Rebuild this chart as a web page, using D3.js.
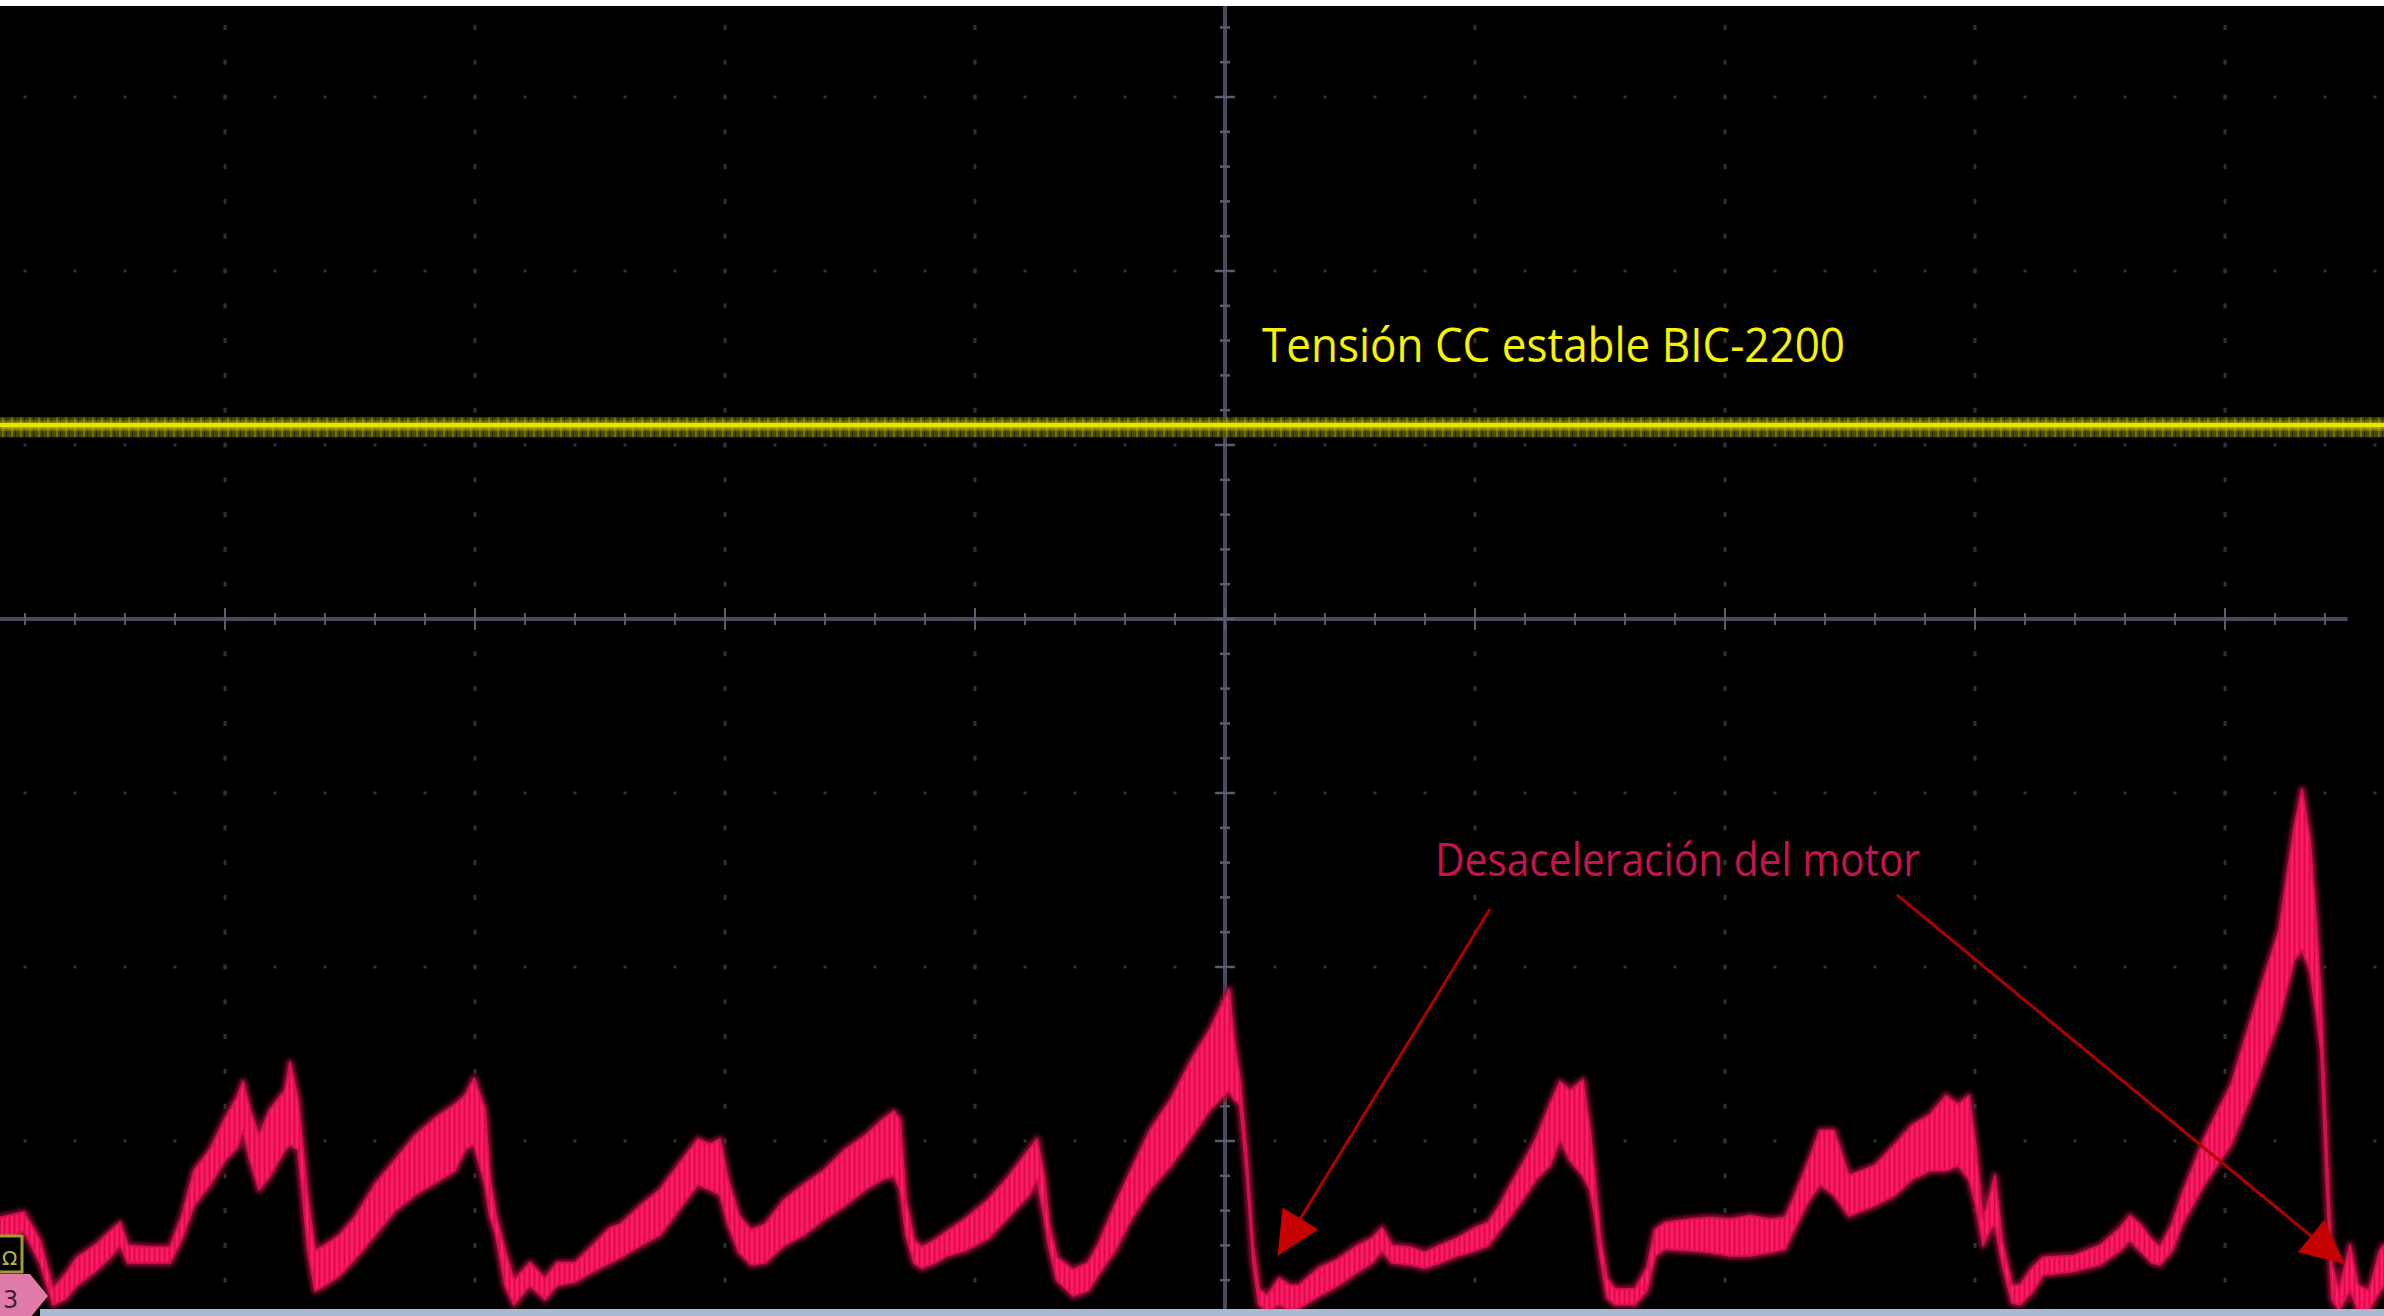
<!DOCTYPE html>
<html>
<head>
<meta charset="utf-8">
<script src="https://cdn.jsdelivr.net/npm/d3@7"></script>
<style>
  html, body { margin: 0; padding: 0; background: #000; overflow: hidden; }
  svg { display: block; }
</style>
</head>
<body>
<svg id="chart" width="2384" height="1316"></svg>
<script>
// ---------------- DATA (units = graticule divisions) ----------------
// Channel 3 (motor current) – time in divisions from screen centre, envelope of the noisy band
const ch3Time = [-4.900,-4.804,-4.740,-4.688,-4.640,-4.592,-4.520,-4.460,-4.420,-4.388,-4.300,-4.220,-4.172,-4.124,-4.060,-4.000,-3.952,-3.928,-3.900,-3.864,-3.820,-3.760,-3.740,-3.708,-3.688,-3.668,-3.640,-3.600,-3.540,-3.476,-3.400,-3.320,-3.240,-3.160,-3.080,-3.040,-3.004,-2.960,-2.940,-2.916,-2.880,-2.844,-2.780,-2.720,-2.672,-2.600,-2.528,-2.460,-2.420,-2.336,-2.260,-2.172,-2.108,-2.060,-2.020,-1.988,-1.944,-1.896,-1.840,-1.764,-1.684,-1.604,-1.520,-1.440,-1.372,-1.324,-1.300,-1.276,-1.244,-1.212,-1.160,-1.112,-1.040,-0.948,-0.868,-0.784,-0.752,-0.724,-0.704,-0.672,-0.608,-0.548,-0.508,-0.440,-0.376,-0.300,-0.216,-0.132,-0.060,-0.020,0.016,0.036,0.060,0.088,0.112,0.136,0.168,0.216,0.260,0.296,0.376,0.452,0.532,0.588,0.628,0.668,0.740,0.800,0.860,0.928,1.000,1.052,1.100,1.132,1.188,1.244,1.300,1.340,1.380,1.432,1.460,1.480,1.500,1.528,1.560,1.640,1.688,1.720,1.760,1.860,1.940,2.020,2.100,2.180,2.240,2.272,2.336,2.380,2.436,2.496,2.548,2.600,2.680,2.748,2.820,2.884,2.932,2.976,3.004,3.032,3.060,3.080,3.108,3.148,3.180,3.228,3.272,3.392,3.500,3.580,3.620,3.660,3.708,3.740,3.788,3.828,3.916,4.024,4.128,4.216,4.276,4.308,4.340,4.364,4.384,4.396,4.412,4.428,4.456,4.500,4.532,4.576,4.620,4.636];
const ch3Upper = [-3.44,-3.41,-3.57,-3.85,-3.77,-3.67,-3.60,-3.52,-3.47,-3.60,-3.61,-3.61,-3.43,-3.17,-3.05,-2.87,-2.75,-2.66,-2.82,-2.97,-2.82,-2.71,-2.55,-2.76,-3.05,-3.34,-3.63,-3.60,-3.54,-3.43,-3.25,-3.11,-2.97,-2.87,-2.79,-2.74,-2.64,-2.82,-3.22,-3.43,-3.63,-3.80,-3.70,-3.79,-3.70,-3.70,-3.60,-3.50,-3.48,-3.37,-3.28,-3.11,-2.99,-3.02,-2.99,-3.22,-3.43,-3.51,-3.48,-3.34,-3.25,-3.17,-3.05,-2.97,-2.88,-2.83,-2.88,-3.34,-3.57,-3.61,-3.57,-3.52,-3.45,-3.34,-3.21,-3.05,-2.99,-3.20,-3.48,-3.67,-3.74,-3.70,-3.60,-3.37,-3.17,-2.94,-2.76,-2.53,-2.36,-2.24,-2.13,-2.42,-2.65,-3.11,-3.60,-3.85,-3.89,-3.79,-3.83,-3.83,-3.73,-3.68,-3.60,-3.56,-3.50,-3.60,-3.61,-3.64,-3.60,-3.56,-3.50,-3.47,-3.37,-3.28,-3.14,-2.99,-2.79,-2.66,-2.71,-2.65,-2.94,-3.22,-3.54,-3.79,-3.85,-3.85,-3.73,-3.51,-3.47,-3.45,-3.44,-3.45,-3.43,-3.45,-3.44,-3.34,-3.11,-2.94,-2.94,-3.20,-3.17,-3.14,-3.02,-2.91,-2.85,-2.74,-2.79,-2.74,-3.05,-3.45,-3.31,-3.20,-3.57,-3.83,-3.83,-3.73,-3.67,-3.66,-3.60,-3.50,-3.43,-3.48,-3.57,-3.61,-3.48,-3.31,-2.99,-2.68,-2.19,-1.79,-1.21,-0.98,-1.27,-1.73,-2.19,-2.65,-3.22,-3.71,-3.86,-3.60,-3.83,-3.86,-3.63,-3.60];
const ch3Lower = [-3.57,-3.52,-3.70,-3.94,-3.91,-3.83,-3.75,-3.67,-3.60,-3.70,-3.70,-3.70,-3.56,-3.37,-3.25,-3.11,-3.04,-2.94,-3.11,-3.28,-3.20,-3.05,-3.02,-3.05,-3.34,-3.63,-3.86,-3.83,-3.77,-3.67,-3.54,-3.40,-3.31,-3.24,-3.17,-3.05,-3.02,-3.25,-3.43,-3.54,-3.83,-3.94,-3.83,-3.91,-3.83,-3.81,-3.75,-3.70,-3.67,-3.60,-3.54,-3.37,-3.25,-3.28,-3.31,-3.48,-3.64,-3.71,-3.70,-3.60,-3.54,-3.45,-3.37,-3.28,-3.22,-3.20,-3.28,-3.54,-3.70,-3.73,-3.70,-3.66,-3.63,-3.56,-3.44,-3.31,-3.22,-3.43,-3.61,-3.80,-3.89,-3.86,-3.77,-3.63,-3.45,-3.28,-3.14,-2.97,-2.82,-2.76,-2.71,-2.76,-2.79,-3.21,-3.70,-3.94,-3.98,-3.94,-3.97,-3.96,-3.89,-3.83,-3.75,-3.70,-3.63,-3.70,-3.71,-3.73,-3.70,-3.66,-3.63,-3.60,-3.51,-3.45,-3.34,-3.22,-3.14,-2.99,-3.11,-3.20,-3.28,-3.43,-3.66,-3.90,-3.94,-3.94,-3.86,-3.66,-3.62,-3.63,-3.64,-3.66,-3.66,-3.64,-3.62,-3.52,-3.34,-3.25,-3.31,-3.43,-3.40,-3.37,-3.31,-3.22,-3.17,-3.17,-3.14,-3.22,-3.37,-3.60,-3.51,-3.48,-3.70,-3.93,-3.94,-3.87,-3.77,-3.75,-3.71,-3.63,-3.57,-3.63,-3.70,-3.71,-3.63,-3.48,-3.25,-3.02,-2.65,-2.30,-1.96,-1.90,-2.02,-2.25,-2.48,-2.88,-3.43,-3.91,-3.97,-3.86,-3.97,-3.97,-3.86,-3.83];

// Channel 1 (BIC-2200 DC voltage) – flat noisy trace
const ch1Time  = [-4.90, -3.00, -1.00, 1.00, 3.00, 4.64];
const ch1Upper = [1.160, 1.160, 1.160, 1.160, 1.160, 1.160];   // outer noise band
const ch1Lower = [1.045, 1.045, 1.045, 1.045, 1.045, 1.045];
const ch1CoreUpper = [1.130, 1.130, 1.130, 1.130, 1.130, 1.130]; // bright core
const ch1CoreLower = [1.090, 1.090, 1.090, 1.090, 1.090, 1.090];

// Graticule: 10 horizontal x 8 vertical divisions, 5 minor ticks per division
const hDivs = [-5,-4,-3,-2,-1,0,1,2,3,4,5];
const vDivs = [-4,-3,-2,-1,0,1,2,3,4];
const minorPerDiv = 5;

// Annotations
const labelCh1 = "Tensión CC estable BIC-2200";
const labelCh3 = "Desaceleración del motor";
// arrows: [start time, start value, tip time, tip value]
const arrows = [
  [1.060, -1.667, 0.210, -3.661],
  [2.688, -1.586, 4.480, -3.707]
];

// ---------------- SCALES ----------------
const W = 2384, H = 1316;
const x = d3.scaleLinear().domain([-5, 5]).range([-25, 2475]);
const y = d3.scaleLinear().domain([-4, 4]).range([1315, -77]);

const svg = d3.select("#chart");
svg.append("rect").attr("width", W).attr("height", H).attr("fill", "#000");

const defs = svg.append("defs");
const pY = defs.append("pattern").attr("id", "yelTex").attr("patternUnits", "userSpaceOnUse")
  .attr("width", 9).attr("height", 40);
pY.append("rect").attr("width", 9).attr("height", 40).attr("fill", "#5a5a00");
pY.append("rect").attr("x", 2).attr("width", 2).attr("height", 40).attr("fill", "#8c8c06");
pY.append("rect").attr("x", 6).attr("width", 1).attr("height", 40).attr("fill", "#2c2c00");

const pR = defs.append("pattern").attr("id", "redTex").attr("patternUnits", "userSpaceOnUse")
  .attr("width", 5).attr("height", 60);
pR.append("rect").attr("width", 5).attr("height", 60).attr("fill", "#ee1258");
pR.append("rect").attr("x", 1).attr("width", 2).attr("height", 60).attr("fill", "#ff1c62");
pR.append("rect").attr("x", 4).attr("width", 1).attr("height", 60).attr("fill", "#d20e4c");

const blur = defs.append("filter").attr("id", "halo").attr("x", "-5%").attr("y", "-20%")
  .attr("width", "110%").attr("height", "140%");
blur.append("feGaussianBlur").attr("stdDeviation", 2.2);

// ---------------- GRATICULE ----------------
const grid = svg.append("g");
const minorT = d3.range(hDivs[0] * minorPerDiv, hDivs[hDivs.length-1] * minorPerDiv + 1).map(k => k / minorPerDiv);
const minorV = d3.range(vDivs[0] * minorPerDiv, vDivs[vDivs.length-1] * minorPerDiv + 1).map(k => k / minorPerDiv);

hDivs.filter(d => d !== 0).forEach(t => {
  grid.selectAll(null).data(minorV).enter().append("rect")
    .attr("x", x(t) - 1.5).attr("y", v => y(v) - 2.5)
    .attr("width", 3).attr("height", 5).attr("fill", "#2f323b");
});
vDivs.filter(d => d !== 0).forEach(v => {
  grid.selectAll(null).data(minorT).enter().append("rect")
    .attr("x", t => x(t) - 1.5).attr("y", y(v) - 1.5)
    .attr("width", 3).attr("height", 3).attr("fill", "#2f323b");
});

const axisCol = "#474b5b";
grid.append("line").attr("x1", x(-4.9)).attr("x2", x(4.49)).attr("y1", y(0)).attr("y2", y(0))
  .attr("stroke", axisCol).attr("stroke-width", 4);
grid.append("line").attr("x1", x(0)).attr("x2", x(0)).attr("y1", 6).attr("y2", y(-4))
  .attr("stroke", axisCol).attr("stroke-width", 4);
grid.selectAll(null).data(minorT.filter(t => t > -4.95 && t < 4.49)).enter().append("line")
  .attr("x1", t => x(t)).attr("x2", t => x(t))
  .attr("y1", t => y(0) - (Number.isInteger(t) ? 11 : 6))
  .attr("y2", t => y(0) + (Number.isInteger(t) ? 11 : 6))
  .attr("stroke", "#585c6e").attr("stroke-width", 2);
grid.selectAll(null).data(minorV).enter().append("line")
  .attr("x1", v => x(0) - (Number.isInteger(v) ? 10 : 5))
  .attr("x2", v => x(0) + (Number.isInteger(v) ? 10 : 5))
  .attr("y1", v => y(v)).attr("y2", v => y(v))
  .attr("stroke", "#585c6e").attr("stroke-width", 2.5);

// ---------------- CHANNEL 1 (yellow) ----------------
const idx1 = d3.range(ch1Time.length);
const area1 = d3.area().x(i => x(ch1Time[i])).y0(i => y(ch1Lower[i])).y1(i => y(ch1Upper[i]));
const core1 = d3.area().x(i => x(ch1Time[i])).y0(i => y(ch1CoreLower[i])).y1(i => y(ch1CoreUpper[i]));
svg.append("path").datum(idx1).attr("d", area1).attr("fill", "url(#yelTex)").attr("opacity", 0.8);
svg.append("path").datum(idx1).attr("d", core1).attr("fill", "#c8c800").attr("filter", "url(#halo)");
svg.append("path").datum(idx1)
  .attr("d", d3.line().x(i => x(ch1Time[i])).y(i => y((ch1CoreUpper[i] + ch1CoreLower[i]) / 2 + 0.005)))
  .attr("stroke", "#e6e600").attr("stroke-width", 4).attr("fill", "none");

// ---------------- CHANNEL 3 (red) ----------------
const idx3 = d3.range(ch3Time.length);
const area3 = d3.area().x(i => x(ch3Time[i])).y0(i => y(ch3Lower[i])).y1(i => y(ch3Upper[i]));
svg.append("path").datum(idx3).attr("d", area3)
  .attr("fill", "#8a0a30").attr("stroke", "#8a0a30").attr("stroke-width", 8)
  .attr("stroke-linejoin", "round").attr("opacity", 0.9).attr("filter", "url(#halo)");
svg.append("path").datum(idx3).attr("d", area3)
  .attr("fill", "url(#redTex)").attr("stroke", "#d80f4e").attr("stroke-width", 2)
  .attr("stroke-linejoin", "round");

// ---------------- BOTTOM BAR & MARKERS ----------------
svg.append("rect").attr("x", 40).attr("y", 1309).attr("width", W - 40).attr("height", 7).attr("fill", "#a9bad4");
svg.append("rect").attr("x", 0).attr("y", 0).attr("width", W).attr("height", 6).attr("fill", "#ffffff");

svg.append("path").attr("d", "M-2,1274 L30,1274 L48,1296 L30,1318 L-2,1318 Z").attr("fill", "#e07aa8");
svg.append("text").attr("x", 3).attr("y", 1308)
  .attr("font-family", "DejaVu Sans, sans-serif").attr("font-size", 24).attr("fill", "#40202e").text("3");
svg.append("rect").attr("x", -3).attr("y", 1236).attr("width", 25).attr("height", 36)
  .attr("fill", "#000").attr("stroke", "#9c9c34").attr("stroke-width", 3);
svg.append("text").attr("x", 2).attr("y", 1265)
  .attr("font-family", "DejaVu Sans, sans-serif").attr("font-size", 20).attr("fill", "#b8b848").text("Ω");

// ---------------- ANNOTATIONS ----------------
svg.append("text").attr("x", 1262).attr("y", 362)
  .attr("font-family", "Open Sans, sans-serif").attr("font-size", 47).attr("fill", "#f6f200")
  .attr("textLength", 583).attr("lengthAdjust", "spacingAndGlyphs").text(labelCh1);
svg.append("text").attr("x", 1435).attr("y", 876)
  .attr("font-family", "Open Sans, sans-serif").attr("font-size", 45).attr("fill", "#c8124c")
  .attr("textLength", 485).attr("lengthAdjust", "spacingAndGlyphs").text(labelCh3);

const headLen = 44, headHalf = 21;
arrows.forEach(a => {
  const sx = x(a[0]), sy = y(a[1]), tx = x(a[2]), ty = y(a[3]);
  const dx = tx - sx, dy = ty - sy, len = Math.hypot(dx, dy);
  const ux = dx / len, uy = dy / len;
  const bx = tx - ux * headLen, by = ty - uy * headLen;
  svg.append("line").attr("x1", sx).attr("y1", sy).attr("x2", bx + ux * 4).attr("y2", by + uy * 4)
    .attr("stroke", "#b00000").attr("stroke-width", 3);
  svg.append("path")
    .attr("d", `M${tx},${ty} L${bx - uy * headHalf},${by + ux * headHalf} L${bx + uy * headHalf},${by - ux * headHalf} Z`)
    .attr("fill", "#c40000");
});
</script>
</body>
</html>
